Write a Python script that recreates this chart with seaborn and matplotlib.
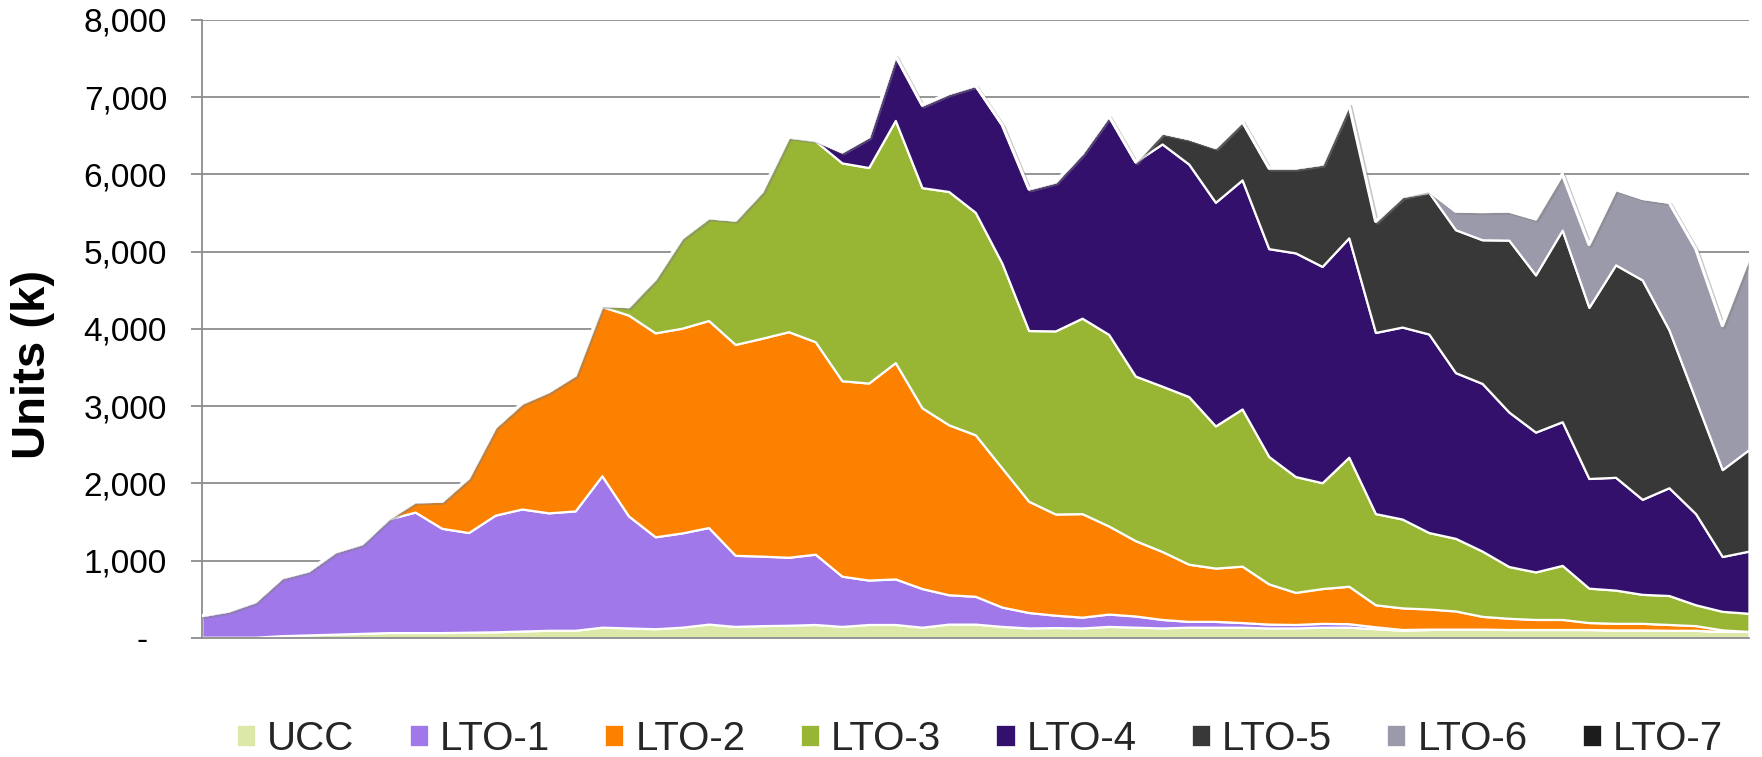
import numpy as np
import matplotlib
matplotlib.use("Agg")
import matplotlib.pyplot as plt
import matplotlib.patheffects as pe
from matplotlib.ticker import FuncFormatter, MultipleLocator
import seaborn as sns

# --- Data (units, thousands), 59 periods ---
ucc = [10, 10, 10, 30, 40, 50, 60, 70, 70, 70,
       75, 80, 90, 100, 100, 140, 130, 120, 140, 180,
       150, 160, 165, 175, 150, 175, 175, 140, 180, 180,
       150, 130, 135, 130, 150, 140, 130, 140, 140, 140,
       130, 130, 140, 140, 120, 100, 110, 115, 115, 110,
       110, 110, 110, 105, 105, 100, 100, 85, 85]
lto1 = [280, 340, 460, 750, 830, 1065, 1160, 1470, 1560, 1350,
        1290, 1510, 1580, 1520, 1545, 1960, 1450, 1190, 1220, 1250,
        920, 900, 880, 910, 650, 575, 590, 500, 380, 360,
        250, 200, 160, 140, 160, 145, 110, 75, 75, 60,
        50, 45, 50, 45, 25, 10, 5, 0, 0, 0,
        0, 0, 0, 0, 0, 0, 0, 0, 0]
lto2 = [0, 0, 0, 0, 0, 0, 0, 5, 135, 350,
        710, 1140, 1370, 1570, 1760, 2190, 2600, 2640, 2650, 2680,
        2730, 2820, 2920, 2750, 2530, 2550, 2800, 2340, 2200, 2090,
        1800, 1440, 1310, 1340, 1140, 975, 880, 740, 690, 730,
        520, 415, 450, 485, 285, 280, 260, 235, 165, 145,
        130, 130, 90, 85, 85, 75, 60, 20, 0]
lto3 = [0, 0, 0, 0, 0, 0, 0, 0, 0, 0,
        0, 0, 0, 0, 0, 15, 110, 700, 1170, 1330,
        1610, 1900, 2520, 2600, 2820, 2790, 3135, 2850, 3020, 2880,
        2650, 2210, 2370, 2530, 2480, 2130, 2140, 2170, 1840, 2035,
        1650, 1500, 1370, 1670, 1180, 1150, 990, 940, 845, 670,
        615, 700, 445, 430, 375, 375, 270, 240, 235]
lto4 = [0, 0, 0, 0, 0, 0, 0, 0, 0, 0,
        0, 0, 0, 0, 0, 0, 0, 0, 0, 0,
        0, 0, 0, 10, 145, 400, 840, 1070, 1270, 1645,
        1795, 1835, 1930, 2135, 2830, 2775, 3135, 3010, 2895, 2965,
        2690, 2895, 2800, 2840, 2345, 2485, 2570, 2145, 2170, 2000,
        1810, 1860, 1420, 1460, 1230, 1395, 1180, 710, 805]
lto5 = [0, 0, 0, 0, 0, 0, 0, 0, 0, 0,
        0, 0, 0, 0, 0, 0, 0, 0, 0, 0,
        0, 0, 0, 0, 0, 0, 0, 0, 0, 0,
        0, 0, 0, 0, 0, 0, 145, 330, 710, 760,
        1045, 1100, 1325, 1730, 1440, 1690, 1835, 1850, 1860, 2225,
        2035, 2480, 2215, 2750, 2840, 2045, 1475, 1125, 1315]
lto6 = [0, 0, 0, 0, 0, 0, 0, 0, 0, 0,
        0, 0, 0, 0, 0, 0, 0, 0, 0, 0,
        0, 0, 0, 0, 0, 0, 0, 0, 0, 0,
        0, 0, 0, 0, 0, 0, 0, 0, 0, 0,
        0, 0, 0, 0, 0, 0, 20, 240, 365, 375,
        725, 725, 815, 975, 1055, 1650, 1955, 1865, 2490]
lto7 = [0] * 59

labels = ["UCC", "LTO-1", "LTO-2", "LTO-3", "LTO-4", "LTO-5", "LTO-6", "LTO-7"]
colors = ["#dbe8a8", "#a078e9", "#fc8100", "#99b534",
          "#32106c", "#383838", "#9a9aab", "#1c1c1c"]

series = [ucc, lto1, lto2, lto3, lto4, lto5, lto6, lto7]
x = np.arange(len(ucc))

sns.set_theme(style="white")
plt.rcParams["font.family"] = ["Liberation Sans", "DejaVu Sans"]

fig = plt.figure(figsize=(17.62, 7.57), dpi=100)
ax = fig.add_axes([0.1145, 0.1572, 0.8781, 0.8164])

polys = ax.stackplot(x, *series, labels=labels, colors=colors,
                     edgecolor="white", linewidth=1.6, zorder=2)

# soft shadow along the top edge
total = np.sum(np.array(series), axis=0)
ax.plot(x, total, color="white", lw=2.2, zorder=3,
        path_effects=[pe.SimpleLineShadow(offset=(1.5, -1.5), shadow_color="gray", alpha=0.45),
                      pe.Normal()])

ax.set_xlim(0, len(ucc) - 1)
ax.set_ylim(0, 8000)
ax.yaxis.set_major_locator(MultipleLocator(1000))
ax.yaxis.set_major_formatter(FuncFormatter(lambda v, p: "-  " if v == 0 else f"{int(v):,}"))
ax.set_xticks([])

ax.grid(axis="y", color="#8c8c8c", lw=1.3, zorder=1)
ax.set_axisbelow(True)
for side in ["top", "right"]:
    ax.spines[side].set_visible(False)
for side in ["left", "bottom"]:
    ax.spines[side].set_color("#8c8c8c")
    ax.spines[side].set_linewidth(1.3)

ax.tick_params(axis="y", which="major", left=True, length=8, width=1.3,
               color="#8c8c8c", pad=17, labelsize=24, labelcolor="black")
ax.set_ylabel("Units (k)", fontsize=34, fontweight="bold", color="black")
ax.yaxis.set_label_coords(-0.095, 0.442)

leg = ax.legend(loc="center", bbox_to_anchor=(0.503, -0.163), ncol=8, frameon=False,
                fontsize=29, handlelength=0.45, handleheight=0.45,
                handletextpad=0.3, columnspacing=1.37)
for h in leg.legend_handles:
    h.set_edgecolor("white")
    h.set_linewidth(0.5)

fig.savefig("out.png", dpi=100)
